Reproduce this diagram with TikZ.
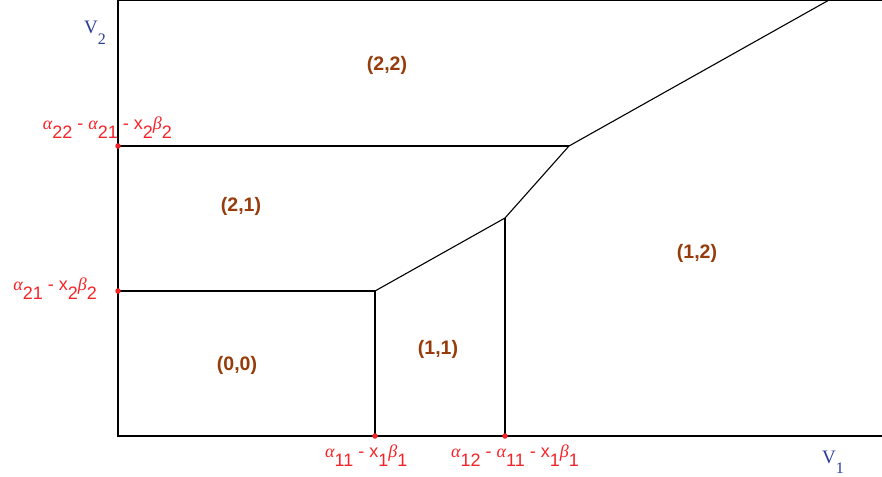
\documentclass[tikz,border=0pt]{standalone}
\usepackage{fontspec}
\setmainfont{Liberation Sans}
\newfontfamily\vfont{Liberation Serif}
\definecolor{regbrown}{RGB}{150,60,10}
\definecolor{labred}{RGB}{245,35,40}
\definecolor{axblue}{RGB}{40,60,150}
\newcommand{\lsub}[1]{\raisebox{-0.55em}{#1}}
\newcommand{\galpha}{{\vfont\itshape α}}
\newcommand{\gbeta}{{\vfont\itshape β}}
\begin{document}
\begin{tikzpicture}[x=1pt,y=-1pt,
  edge/.style={line width=1.1pt, black},
  region/.style={text=regbrown, font=\fontsize{19.5}{19.5}\selectfont\bfseries, inner sep=0pt},
  redlab/.style={text=labred, font=\fontsize{18}{18}\selectfont, inner sep=0pt},
  axlab/.style={text=axblue, font=\vfont\fontsize{19}{19}\selectfont, inner sep=0pt},
  dot/.style={circle, fill=labred, inner sep=0pt, minimum size=5.5pt}]
\useasboundingbox (0,0) rectangle (882,476);
% frame
\coordinate (tl) at (118,0.6);
\coordinate (tr) at (882,0.6);
\coordinate (bl) at (118,436);
\coordinate (br) at (882,436);
\draw[edge] (tr) -- (tl) -- (bl) -- (br);
% key points
\coordinate (y22) at (118,146);
\coordinate (y21) at (118,291);
\coordinate (x11) at (375,436);
\coordinate (x12) at (505,436);
\coordinate (p1) at (375,291);
\coordinate (p2) at (505,218);
\coordinate (p3) at (569,146);
\coordinate (p4) at (828,0.6);
\draw[edge] (y22) -- (p3);
\draw[edge] (y21) -- (p1);
\draw[edge] (x11) -- (p1);
\draw[edge] (x12) -- (p2);
\draw[edge] (p1) -- (p2) -- (p3) -- (p4);
% dots
\node[dot] (d1) at (y22) {};
\node[dot] (d2) at (y21) {};
\node[dot] (d3) at (x11) {};
\node[dot] (d4) at (x12) {};
% red labels
\node[redlab, anchor=base east] (l1) at (172,129) {\galpha\lsub{22} - \galpha\lsub{21} - x\lsub{2}\gbeta\lsub{2}};
\node[redlab, anchor=base east] (l2) at (97,290) {\galpha\lsub{21} - x\lsub{2}\gbeta\lsub{2}};
\node[redlab, anchor=base west] (l3) at (325,457) {\galpha\lsub{11} - x\lsub{1}\gbeta\lsub{1}};
\node[redlab, anchor=base west] (l4) at (451,457) {\galpha\lsub{12} - \galpha\lsub{11} - x\lsub{1}\gbeta\lsub{1}};
% axis labels
\node[axlab, anchor=base west] (v2) at (84,34) {V\lsub{\fontsize{16}{16}\selectfont 2}};
\node[axlab, anchor=base west] (v1) at (822,463) {V\lsub{\fontsize{16}{16}\selectfont 1}};
% regions
\node[region] (r22) at (387,65) {(2,2)};
\node[region] (r21) at (241,206) {(2,1)};
\node[region] (r00) at (237,365) {(0,0)};
\node[region] (r11) at (438,349) {(1,1)};
\node[region] (r12) at (697,253) {(1,2)};
\end{tikzpicture}
\end{document}
